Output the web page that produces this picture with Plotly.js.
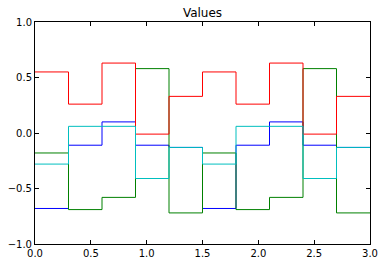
<!DOCTYPE html>
<html>
<head>
<meta charset="utf-8">
<script src="https://cdn.plot.ly/plotly-3.0.1.min.js"></script>
<style>html,body{margin:0;padding:0;background:#fff;}#chart{width:385px;height:266px;}</style>
</head>
<body>
<div id="chart"></div>
<script>
// step edges (x) and per-step values for each series
var xEdges = [0.0, 0.3, 0.6, 0.9, 1.2, 1.5, 1.8, 2.1, 2.4, 2.7, 3.0];
var blueVals  = [-0.68, -0.11, 0.10, -0.11, -0.13, -0.68, -0.11, 0.10, -0.11, -0.13];
var greenVals = [-0.18, -0.69, -0.58, 0.58, -0.72, -0.18, -0.69, -0.58, 0.58, -0.72];
var redVals   = [0.55, 0.26, 0.63, -0.01, 0.33, 0.55, 0.26, 0.63, -0.01, 0.33];
var cyanVals  = [-0.28, 0.06, 0.06, -0.41, -0.13, -0.28, 0.06, 0.06, -0.41, -0.13];
var xTicks = [0.0, 0.5, 1.0, 1.5, 2.0, 2.5, 3.0];
var yTicks = [-1.0, -0.5, 0.0, 0.5, 1.0];

function stepTrace(vals, color) {
  var y = vals.concat([vals[vals.length - 1]]);
  return {x: xEdges, y: y, type: 'scatter', mode: 'lines',
          line: {shape: 'hv', color: color, width: 1}, hoverinfo: 'none'};
}
var traces = [
  stepTrace(blueVals, '#0000ff'),
  stepTrace(greenVals, '#008000'),
  stepTrace(redVals, '#ff0000'),
  stepTrace(cyanVals, '#00bfbf')
];
var axisCommon = {
  showgrid: false, zeroline: false, showline: true, linecolor: '#000', linewidth: 1,
  mirror: 'ticks', ticks: 'inside', ticklen: 4, tickcolor: '#000', tickwidth: 1,
  tickfont: {family: 'DejaVu Sans', size: 10, color: '#000'}, tickformat: '.1f'
};
var layout = {
  width: 385, height: 266,
  margin: {l: 35, r: 15, t: 22, b: 22},
  paper_bgcolor: '#fff', plot_bgcolor: '#fff',
  showlegend: false,
  title: {text: 'Values', x: 0.5, xref: 'paper', y: 1 - 13/266, yref: 'container', yanchor: 'middle',
          font: {family: 'DejaVu Sans', size: 12, color: '#000'}},
  xaxis: Object.assign({}, axisCommon, {range: [0, 3], tickvals: xTicks}),
  yaxis: Object.assign({}, axisCommon, {range: [-1, 1], tickvals: yTicks})
};
Plotly.newPlot('chart', traces, layout, {staticPlot: true, displayModeBar: false});
</script>
</body>
</html>
